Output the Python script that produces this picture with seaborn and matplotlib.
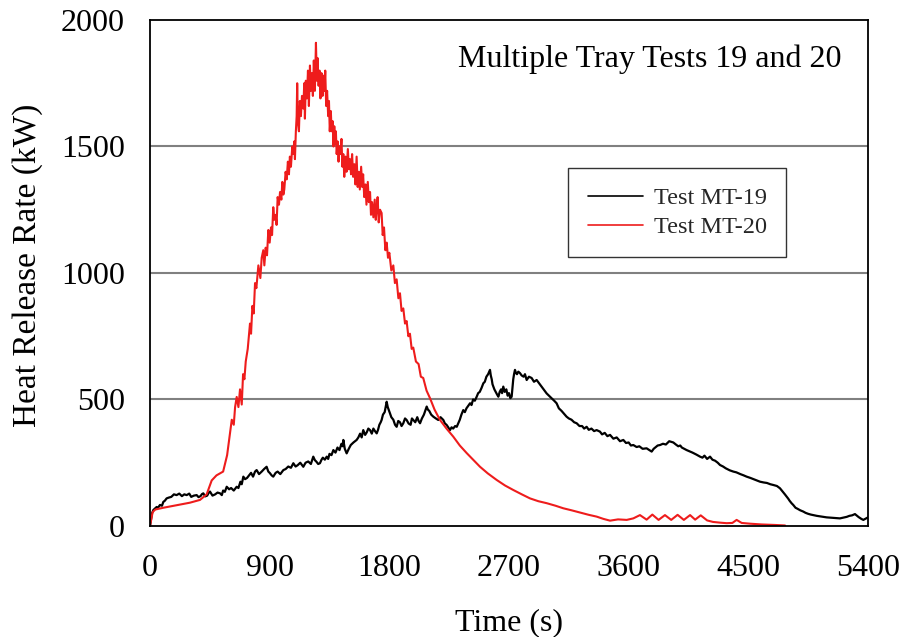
import numpy as np
import pandas as pd
import matplotlib
matplotlib.use("Agg")
import matplotlib.pyplot as plt
import seaborn as sns

# ---------------- data ----------------
t_mt20 = [0, 20, 40, 100, 200, 300, 376, 426, 464, 500, 550, 580,
          602, 615, 630, 640, 652, 665, 677, 690, 700, 710, 720, 735,
          752, 760, 770, 780, 790, 800, 815, 830, 840, 852, 860, 870,
          880, 890, 900, 910, 918, 927, 935, 945, 952, 960, 970, 978,
          988, 995, 1003, 1010, 1020, 1028, 1037, 1045, 1052, 1060, 1070, 1077,
          1085, 1090, 1097, 1103, 1107, 1112, 1120, 1127, 1135, 1143, 1153, 1160,
          1165, 1172, 1180, 1188, 1195, 1203, 1210, 1218, 1225, 1232, 1240, 1248,
          1255, 1260, 1268, 1275, 1282, 1290, 1298, 1305, 1312, 1318, 1325, 1332,
          1340, 1346, 1352, 1360, 1366, 1374, 1380, 1386, 1392, 1398, 1404, 1411,
          1418, 1425, 1432, 1440, 1447, 1454, 1461, 1470, 1478, 1488, 1496, 1504,
          1512, 1520, 1528, 1537, 1545, 1554, 1562, 1570, 1578, 1588, 1596, 1603,
          1611, 1620, 1628, 1638, 1646, 1655, 1662, 1670, 1680, 1690, 1698, 1705,
          1712, 1720, 1730, 1742, 1750, 1760, 1770, 1780, 1790, 1800, 1815, 1830,
          1842, 1855, 1868, 1880, 1892, 1905, 1918, 1930, 1943, 1955, 1968, 1980,
          2000, 2020, 2037, 2055, 2080, 2106, 2140, 2181, 2230, 2281, 2330, 2382,
          2430, 2482, 2540, 2607, 2670, 2733, 2800, 2858, 2920, 2984, 3050, 3108,
          3170, 3234, 3300, 3359, 3410, 3460, 3520, 3585, 3635, 3685, 3735, 3778,
          3825, 3873, 3920, 3968, 4015, 4062, 4100, 4142, 4190, 4234, 4290, 4337,
          4380, 4412, 4450, 4513, 4600, 4700, 4776]
hrr_mt20 = [0, 55, 65, 72, 82, 92, 103, 125, 180, 200, 215, 280,
            367, 420, 400, 470, 510, 470, 540, 480, 600, 580, 650, 700,
            800, 760, 870, 840, 960, 940, 1030, 980, 1060, 1090, 1030, 1100,
            1070, 1170, 1120, 1180, 1150, 1260, 1210, 1230, 1190, 1300, 1270, 1320,
            1290, 1360, 1310, 1330, 1400, 1370, 1440, 1390, 1460, 1420, 1500, 1470,
            1520, 1450, 1560, 1620, 1750, 1600, 1560, 1680, 1620, 1700, 1650, 1750,
            1610, 1760, 1690, 1800, 1660, 1820, 1720, 1790, 1700, 1840, 1720, 1910,
            1760, 1850, 1740, 1800, 1690, 1790, 1700, 1780, 1720, 1800, 1660, 1720,
            1620, 1680, 1560, 1640, 1560, 1600, 1500, 1580, 1510, 1560, 1470, 1520,
            1440, 1500, 1470, 1530, 1420, 1470, 1380, 1460, 1400, 1490, 1410, 1450,
            1390, 1470, 1380, 1430, 1350, 1460, 1340, 1400, 1330, 1420, 1340, 1390,
            1300, 1350, 1270, 1360, 1280, 1320, 1230, 1280, 1220, 1290, 1210, 1260,
            1300, 1200, 1250, 1237, 1150, 1180, 1090, 1120, 1060, 1080, 1010, 1030,
            960, 975, 900, 920, 850, 860, 800, 810, 750, 760, 700, 705,
            650, 640, 590, 585, 535, 505, 460, 419, 385, 353, 318, 288,
            262, 234, 208, 182, 160, 142, 124, 109, 98, 90, 80, 70,
            62, 53, 44, 37, 28, 21, 26, 24, 30, 43, 25, 45,
            24, 43, 24, 44, 24, 43, 25, 42, 22, 16, 13, 11,
            12, 24, 12, 9, 6, 4, 2]

t_mt19 = [0, 15, 25, 40, 50, 60, 75, 90, 100, 112, 125, 140,
          160, 180, 200, 220, 240, 258, 276, 295, 310, 330, 351, 365,
          380, 391, 401, 415, 430, 440, 451, 470, 490, 508, 527, 540,
          550, 563, 577, 595, 610, 630, 652, 665, 680, 690, 702, 715,
          730, 745, 760, 775, 790, 802, 820, 840, 858, 877, 890, 900,
          915, 927, 945, 960, 980, 1003, 1020, 1040, 1060, 1078, 1095, 1110,
          1130, 1153, 1170, 1190, 1210, 1228, 1240, 1250, 1265, 1278, 1290, 1300,
          1315, 1329, 1340, 1350, 1365, 1379, 1395, 1410, 1425, 1440, 1450, 1454,
          1465, 1479, 1495, 1510, 1530, 1554, 1567, 1580, 1592, 1604, 1618, 1630,
          1642, 1655, 1668, 1680, 1692, 1705, 1715, 1725, 1735, 1742, 1752, 1765,
          1772, 1780, 1788, 1795, 1805, 1815, 1830, 1843, 1855, 1867, 1880, 1892,
          1905, 1918, 1930, 1945, 1960, 1970, 1980, 1995, 2010, 2020, 2031, 2045,
          2060, 2070, 2081, 2090, 2100, 2115, 2131, 2150, 2168, 2185, 2206, 2218,
          2230, 2243, 2256, 2268, 2280, 2295, 2307, 2318, 2330, 2342, 2356, 2368,
          2380, 2393, 2407, 2418, 2430, 2443, 2457, 2468, 2480, 2493, 2507, 2518,
          2530, 2543, 2557, 2563, 2570, 2576, 2582, 2590, 2600, 2610, 2620, 2630,
          2640, 2648, 2657, 2668, 2680, 2690, 2700, 2710, 2720, 2727, 2732, 2738,
          2745, 2752, 2760, 2770, 2783, 2795, 2810, 2820, 2833, 2850, 2870, 2888,
          2908, 2925, 2940, 2960, 2983, 3000, 3020, 3040, 3058, 3075, 3095, 3112,
          3133, 3150, 3170, 3190, 3209, 3230, 3250, 3265, 3284, 3300, 3320, 3340,
          3359, 3384, 3400, 3420, 3440, 3460, 3485, 3510, 3535, 3560, 3580, 3600,
          3617, 3635, 3660, 3680, 3705, 3735, 3755, 3773, 3788, 3800, 3818, 3836,
          3858, 3880, 3905, 3936, 3955, 3973, 3988, 4000, 4018, 4036, 4058, 4080,
          4110, 4137, 4155, 4170, 4190, 4212, 4230, 4250, 4270, 4287, 4310, 4330,
          4360, 4387, 4410, 4440, 4465, 4487, 4515, 4540, 4565, 4588, 4615, 4640,
          4665, 4688, 4715, 4738, 4760, 4775, 4788, 4800, 4810, 4825, 4838, 4855,
          4870, 4890, 4913, 4930, 4950, 4970, 4988, 5015, 5040, 5065, 5089, 5115,
          5140, 5165, 5189, 5215, 5240, 5260, 5280, 5302, 5318, 5330, 5350, 5365,
          5385, 5400]
hrr_mt19 = [0, 50, 63, 70, 75, 72, 83, 80, 95, 100, 109, 112,
            115, 125, 122, 128, 118, 125, 122, 128, 115, 120, 122, 114,
            118, 126, 129, 117, 120, 130, 136, 120, 125, 132, 129, 122,
            140, 135, 155, 145, 150, 140, 155, 150, 175, 165, 195, 185,
            190, 200, 210, 195, 215, 221, 205, 215, 225, 234, 215, 210,
            200, 195, 210, 215, 205, 221, 225, 235, 230, 248, 235, 240,
            250, 234, 250, 255, 245, 274, 260, 255, 245, 248, 262, 270,
            262, 274, 265, 285, 280, 300, 290, 310, 300, 325, 315, 340,
            305, 287, 305, 320, 330, 340, 350, 365, 350, 379, 360, 370,
            385, 379, 365, 385, 375, 366, 380, 400, 410, 419, 440, 450,
            470, 491, 470, 460, 445, 430, 420, 400, 392, 415, 410, 395,
            406, 425, 419, 405, 400, 425, 419, 410, 430, 415, 406, 425,
            440, 455, 472, 460, 455, 440, 432, 425, 419, 430, 419, 405,
            400, 390, 379, 390, 385, 395, 392, 405, 420, 440, 458, 450,
            465, 475, 485, 478, 500, 495, 511, 525, 530, 545, 564, 570,
            590, 600, 617, 595, 580, 560, 551, 540, 530, 520, 511, 530,
            540, 525, 551, 530, 540, 515, 525, 505, 511, 550, 580, 600,
            617, 605, 600, 610, 604, 595, 590, 600, 577, 590, 585, 570,
            577, 565, 555, 540, 524, 515, 505, 495, 485, 465, 455, 445,
            432, 425, 420, 410, 406, 395, 395, 385, 392, 380, 385, 375,
            379, 373, 362, 368, 355, 360, 345, 350, 335, 340, 328, 330,
            318, 320, 312, 315, 305, 307, 300, 294, 305, 310, 318, 320,
            325, 322, 335, 330, 322, 315, 318, 310, 305, 300, 295, 290,
            282, 274, 270, 278, 265, 274, 262, 258, 250, 241, 235, 228,
            220, 215, 212, 205, 200, 195, 190, 185, 180, 175, 172, 170,
            165, 162, 158, 149, 135, 125, 116, 108, 100, 90, 83, 72,
            68, 62, 57, 52, 48, 45, 43, 40, 38, 36, 34, 33,
            32, 31, 30, 33, 36, 40, 42, 47, 40, 35, 28, 24,
            30, 34]

series_labels = ["Test MT-19", "Test MT-20"]
x_ticks = [0, 900, 1800, 2700, 3600, 4500, 5400]
y_ticks = [0, 500, 1000, 1500, 2000]
title_text = "Multiple Tray Tests 19 and 20"

# ---------------- plotting ----------------
sns.set_theme(style="white")
plt.rcParams["font.family"] = ["Liberation Serif", "DejaVu Serif"]

fig = plt.figure(figsize=(9.02, 6.37), dpi=100)
ax = fig.add_axes([0.1663, 0.1743, 0.7960, 0.7943])

df19 = pd.DataFrame({"t": t_mt19, "hrr": hrr_mt19})
df20 = pd.DataFrame({"t": t_mt20, "hrr": hrr_mt20})

ax.grid(False)
for yv in y_ticks[1:-1]:
    ax.axhline(yv, color="#808080", lw=1.5, zorder=0)

sns.lineplot(data=df19, x="t", y="hrr", ax=ax, color="black", lw=1.6,
             label=series_labels[0], sort=False, estimator=None)
sns.lineplot(data=df20, x="t", y="hrr", ax=ax, color="#ee1c1c", lw=1.5,
             label=series_labels[1], sort=False, estimator=None)

ax.set_xlim(0, 5400)
ax.set_ylim(0, 2000)
ax.set_xticks(x_ticks)
ax.set_yticks(y_ticks)
ax.tick_params(axis="both", direction="out", length=5, width=1.2, color="black",
               labelsize=23, labelcolor="black")
ax.tick_params(axis="x", pad=15)
ax.tick_params(axis="y", pad=13)
for s in ax.spines.values():
    s.set_color("black")
    s.set_linewidth(1.3)

ax.set_xlabel("Time (s)", fontsize=23, color="black", labelpad=18)
ax.set_ylabel("Heat Release Rate (kW)", fontsize=24, color="black")
ax.yaxis.set_label_coords(-0.149, 0.515)

ax.text(0.6964, 0.907, title_text, transform=ax.transAxes, ha="center", va="baseline",
        fontsize=23, color="black")

leg = ax.legend(loc="upper left", bbox_to_anchor=(0.5826, 0.708), fontsize=17.5,
                frameon=True, fancybox=False, edgecolor="black", borderpad=0.8,
                handlelength=2.26, handletextpad=0.45, labelspacing=0.28,
                borderaxespad=0)
leg.get_frame().set_linewidth(1.0)
for line in leg.get_lines():
    line.set_linewidth(1.2)

fig.savefig("out.png", dpi=100)
